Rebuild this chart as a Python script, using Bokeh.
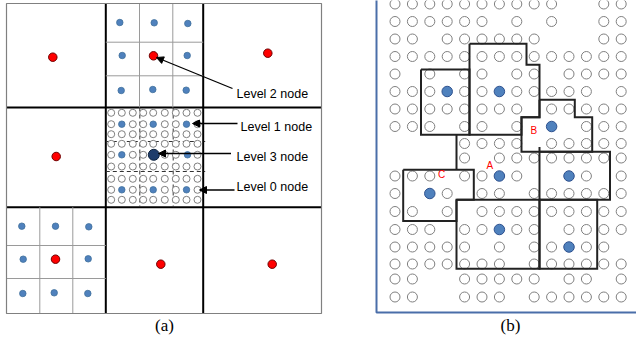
from bokeh.plotting import figure
from bokeh.models import Range1d, Arrow, NormalHead
from bokeh.core.properties import value
from bokeh.embed import file_html
from bokeh.resources import INLINE

# ---------------- Panel (a) : nested grid ----------------
frame_a = dict(x0=6, x1=321, y0=3, y1=313)
major_x = [105.3, 202.7]
major_y = [107, 206.7]
# thin subdivisions (top-centre cell, bottom-left cell)
top_sub_x = [139, 172.3]
top_sub_y = [41.7, 75.3]
bl_sub_x = [39.3, 72.3]
bl_sub_y = [245, 278]
# dashed subdivisions of the centre cell
mid_dash_x = [139.3, 172.7]
mid_dash_y = [141, 171]

red_x = [52.3, 267.3, 55.7, 153.0, 55.0, 160.3, 271.7]
red_y = [56.7, 52.7, 156.0, 55.3, 258.7, 263.7, 263.7]

lvl1_x = [119.3, 153.7, 187.3, 121.7, 186.7, 120.7, 152.3, 185.7,
          21.3, 55.0, 88.3, 22.7, 87.7, 22.3, 53.7, 87.3,
          121.3, 152.7, 186.0, 121.3, 187.0, 121.3, 152.7, 186.0]
lvl1_y = [22.0, 22.3, 23.0, 55.0, 55.0, 90.0, 89.0, 89.7,
          225.7, 225.7, 226.3, 258.7, 258.3, 293.0, 292.3, 293.0,
          123.7, 123.7, 123.7, 154.3, 154.3, 189.3, 189.3, 189.3]
lvl3_x = [153.3]
lvl3_y = [154.3]

fine_cols = [110.7, 121.3, 132.3, 142.7, 152.7, 164.3, 175.3, 186.0, 197.0]
fine_rows = [112.3, 123.7, 133.7, 143.3, 154.3, 166.0, 178.3, 189.3, 199.3]
fine_filled = {(1, 1), (4, 1), (7, 1), (1, 4), (4, 4), (7, 4), (1, 7), (4, 7), (7, 7)}

labels_a = ["Level 2 node", "Level 1 node", "Level 3 node", "Level 0 node"]
labels_a_x = [236, 240, 236, 236]
labels_a_y = [93, 126, 156, 186]
arrow_x0 = [232, 237, 230.5, 234]
arrow_y0 = [88, 123, 153, 189.5]
arrow_x1 = [156, 192, 158, 199]
arrow_y1 = [57, 123, 153, 189.5]

# ---------------- Panel (b) : clustered grid ----------------
col_x = [394.5, 411.9, 429.3, 446.7, 464.1, 481.5, 498.9, 516.3,
         533.7, 551.1, 568.5, 585.9, 603.3, 620.7]
row_y = [3.5, 21, 38.5, 56, 73.5, 91, 108.5, 126, 143, 157.5,
         175.5, 193, 211, 229, 246.5, 263.5, 278.5, 296.5]
hollow_rows = [
    [0, 1, 2, 3, 4, 5, 6, 7, 8, 9, 12, 13],
    [0, 1, 2, 3, 4, 5, 7, 9, 12, 13],
    [0, 1, 3, 4, 5, 6, 7, 8, 12, 13],
    list(range(14)),
    [0, 2, 4, 5, 7, 8, 10, 11, 12, 13],
    [0, 1, 2, 4, 5, 7, 8, 9, 10, 11, 13],
    [0, 1, 2, 3, 4, 5, 6, 7, 9, 10, 11, 12, 13],
    [0, 1, 2, 4, 5, 7, 11, 12, 13],
    [4, 5, 6, 7, 9, 10, 11, 12, 13],
    [4, 6, 7, 8, 9, 10, 11, 12, 13],
    [0, 1, 2, 4, 5, 7, 11, 13],
    [0, 3, 5, 6, 8, 9, 10, 11, 12, 13],
    [0, 1, 3, 5, 6, 7, 8, 9, 10, 11, 12, 13],
    [0, 1, 2, 4, 5, 7, 8, 10, 11, 12, 13],
    [0, 1, 2, 3, 4, 6, 8, 9, 11, 12],
    [0, 1, 2, 3, 4, 5, 6, 8, 9, 10, 11, 12, 13],
    [0, 1, 4, 5, 6, 7, 8, 10, 11, 13],
    [0, 1, 4, 5, 6, 8, 9, 10, 11, 12, 13],
]
heads_rc = [(5, 3), (5, 6), (7, 9), (10, 6), (10, 10), (11, 2), (13, 6), (14, 10)]

clusters_x = [
    [420.5, 469, 469, 420.5, 420.5],
    [469, 526, 526, 539, 539, 521, 521, 469, 469],
    [539, 574.3, 574.3, 591.7, 591.7, 521, 521, 539, 539],
    [539, 609.5, 609.5, 539, 539],
    [402.7, 473.3, 473.3, 456, 456, 402.7, 402.7],
    [456, 539, 539, 456, 456],
    [539, 596.7, 596.7, 539, 539],
    [456, 456],
    [539, 539],
]
clusters_y = [
    [69, 69, 134.3, 134.3, 69],
    [43.3, 43.3, 64.3, 64.3, 116.7, 116.7, 134.3, 134.3, 43.3],
    [99.3, 99.3, 116.7, 116.7, 151.2, 151.2, 116.7, 116.7, 99.3],
    [151.2, 151.2, 199.3, 199.3, 151.2],
    [169.3, 169.3, 199.3, 199.3, 220.5, 220.5, 169.3],
    [199.3, 199.3, 268.3, 268.3, 199.3],
    [199.3, 199.3, 268.3, 268.3, 199.3],
    [134.3, 169.3],
    [146.5, 151.2],
]
cluster_names = ["A", "B", "C"]
cluster_name_x = [489.3, 533.3, 441.0]
cluster_name_y = [164.5, 130.0, 173.5]

captions = ["(a)", "(b)"]
caption_x = [164, 510]
caption_y = [325, 325]

# ---------------- figure ----------------
p = figure(width=636, height=362, x_range=Range1d(0, 636), y_range=Range1d(362, 0),
           x_axis_type=None, y_axis_type=None, output_backend="svg",
           toolbar_location=None, min_border=0)
p.grid.visible = False
p.outline_line_color = None
p.background_fill_color = "white"
p.border_fill_color = "white"

# panel (a) lines
p.segment(x0=[frame_a["x0"]] * 2 + major_x, y0=major_y + [frame_a["y0"]] * 2,
          x1=[frame_a["x1"]] * 2 + major_x, y1=major_y + [frame_a["y1"]] * 2,
          line_color="black", line_width=2)
p.segment(x0=top_sub_x + [major_x[0]] * 2, y0=[frame_a["y0"]] * 2 + top_sub_y,
          x1=top_sub_x + [major_x[1]] * 2, y1=[major_y[0]] * 2 + top_sub_y,
          line_color="#9a9a9a", line_width=1)
p.segment(x0=bl_sub_x + [frame_a["x0"]] * 2, y0=[major_y[1]] * 2 + bl_sub_y,
          x1=bl_sub_x + [major_x[0]] * 2, y1=[frame_a["y1"]] * 2 + bl_sub_y,
          line_color="#9a9a9a", line_width=1)
p.segment(x0=mid_dash_x + [major_x[0]] * 2, y0=[major_y[0]] * 2 + mid_dash_y,
          x1=mid_dash_x + [major_x[1] + 2] * 2, y1=[major_y[1]] * 2 + mid_dash_y,
          line_color="#333333", line_width=1, line_dash="4 3")
p.quad(left=[frame_a["x0"]], right=[frame_a["x1"]], top=[frame_a["y0"]], bottom=[frame_a["y1"]],
       fill_color=None, line_color="#808080", line_width=1.2)

# centre-cell fine circles
fx, fy = [], []
for j, yy in enumerate(fine_rows):
    for i, xx in enumerate(fine_cols):
        if (i, j) not in fine_filled:
            fx.append(xx)
            fy.append(yy)
p.scatter(fx, fy, marker="circle", size=7, fill_color="white", line_color="#7f7f7f", line_width=1)
p.scatter(lvl1_x, lvl1_y, marker="circle", size=6.5, fill_color="#4f81bd", line_color="#41719c", line_width=0.8)
p.scatter(lvl3_x, lvl3_y, marker="circle", size=11, fill_color="#1f3d6b", line_color="#0f2440", line_width=1)
p.scatter(red_x, red_y, marker="circle", size=8.5, fill_color="#ff0000", line_color="#6e0000", line_width=1)

for xa, ya, xb, yb in zip(arrow_x0, arrow_y0, arrow_x1, arrow_y1):
    p.add_layout(Arrow(x_start=xa, y_start=ya, x_end=xb, y_end=yb, line_color="black", line_width=1.3,
                       end=NormalHead(size=7, fill_color="black", line_color="black", line_width=1)))
p.text(labels_a_x, labels_a_y, text=labels_a, text_font=value("Liberation Sans"),
       text_font_size="12.5px", text_baseline="middle", text_align="left", text_color="black")

# panel (b)
hx, hy = [], []
for r, cols in enumerate(hollow_rows):
    for c in cols:
        hx.append(col_x[c])
        hy.append(row_y[r])
p.scatter(hx, hy, marker="circle", size=10, fill_color="white", line_color="#808080", line_width=1)
p.scatter([col_x[c] for r, c in heads_rc], [row_y[r] for r, c in heads_rc], marker="circle", size=10.5,
          fill_color="#4f81bd", line_color="#2f528f", line_width=1)
p.multi_line(clusters_x, clusters_y, line_color="#222222", line_width=2, line_join="miter")
p.text(cluster_name_x, cluster_name_y, text=cluster_names, text_font=value("Liberation Sans"),
       text_font_size="10px", text_baseline="middle", text_align="center", text_color="#ff0000")
p.line([376, 376, 640], [-5, 312, 312], line_color="#4a6ea9", line_width=2)

p.text(caption_x, caption_y, text=captions, text_font=value("Liberation Serif"),
       text_font_size="17px", text_baseline="middle", text_align="center", text_color="black")

open("out.html", "w").write(file_html(p, INLINE))
